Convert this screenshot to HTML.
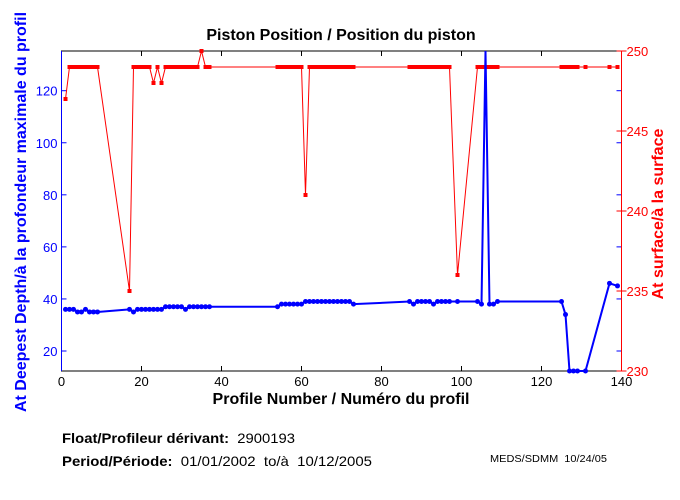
<!DOCTYPE html>
<html><head><meta charset="utf-8"><style>
body{margin:0;background:#fff;width:680px;height:500px;overflow:hidden}
svg{display:block;font-family:"Liberation Sans",Arial,sans-serif}
</style></head><body>
<svg id="s" width="680" height="500" xmlns="http://www.w3.org/2000/svg">
<rect width="680" height="500" fill="#fff"/>
<text x="341" y="40" text-anchor="middle" font-size="16" font-weight="bold">Piston Position / Position du piston</text>
<text x="341" y="404" text-anchor="middle" font-size="16" font-weight="bold">Profile Number / Numéro du profil</text>
<text transform="translate(26,212) rotate(-90)" text-anchor="middle" font-size="16" font-weight="bold" fill="#0000ff">At Deepest Depth/à la profondeur maximale du profil</text>
<text transform="translate(663,214) rotate(-90)" text-anchor="middle" font-size="16" font-weight="bold" fill="#ff0000">At surface/à la surface</text>
<text x="62" y="443" font-size="14" textLength="233" lengthAdjust="spacingAndGlyphs" xml:space="preserve"><tspan font-weight="bold">Float/Profileur dérivant:</tspan>  2900193</text>
<text x="62" y="466" font-size="14" textLength="310" lengthAdjust="spacingAndGlyphs" xml:space="preserve"><tspan font-weight="bold">Period/Période:</tspan>  01/01/2002  to/à  10/12/2005</text>
<text x="490" y="462" font-size="10" textLength="117" lengthAdjust="spacingAndGlyphs" xml:space="preserve">MEDS/SDMM  10/24/05</text>
<g id="g"></g>
</svg>
<script>
var L=61.5,R=621.5,T=51,B=371;
function X(v){return L+v*4}
function YL(v){return 90.7+(120-v)*2.603}
function YR(v){return T+(250-v)*16}
var h='';
h+='<rect x="'+L+'" y="'+T+'" width="'+(R-L)+'" height="'+(B-T)+'" fill="none" stroke="#000" stroke-width="1"/>';
for(var i=0;i<=140;i+=20){var x=X(i);h+='<line x1="'+x+'" y1="'+B+'" x2="'+x+'" y2="'+(B-5)+'" stroke="#000"/><line x1="'+x+'" y1="'+T+'" x2="'+x+'" y2="'+(T+5)+'" stroke="#000"/><text x="'+x+'" y="'+(B+15)+'" text-anchor="middle" font-size="13">'+i+'</text>';}
h+='<line x1="'+L+'" y1="'+T+'" x2="'+L+'" y2="'+B+'" stroke="#00f"/>';
for(var v=20;v<=120;v+=20){var y=YL(v);h+='<line x1="'+L+'" y1="'+y+'" x2="'+(L+5)+'" y2="'+y+'" stroke="#00f"/><line x1="'+R+'" y1="'+y+'" x2="'+(R-5)+'" y2="'+y+'" stroke="#00f"/><text x="'+(L-4)+'" y="'+(y+5)+'" text-anchor="end" font-size="13" fill="#00f">'+v+'</text>';}
h+='<line x1="'+R+'" y1="'+T+'" x2="'+R+'" y2="'+B+'" stroke="#f00"/>';
for(var v=230;v<=250;v+=5){var y=YR(v);h+='<line x1="'+(R-5)+'" y1="'+y+'" x2="'+(R+5)+'" y2="'+y+'" stroke="#f00"/><text x="'+(R+5)+'" y="'+(y+5)+'" font-size="13" fill="#f00">'+v+'</text>';}
var red=[[1,247]];for(var i=2;i<=9;i++)red.push([i,249]);red.push([17,235]);
for(var i=18;i<=22;i++)red.push([i,249]);red.push([23,248],[24,249],[25,248]);
for(var i=26;i<=34;i++)red.push([i,249]);red.push([35,250],[36,249],[37,249]);
for(var i=54;i<=60;i++)red.push([i,249]);red.push([61,241]);
for(var i=62;i<=73;i++)red.push([i,249]);for(var i=87;i<=97;i++)red.push([i,249]);
red.push([99,236]);for(var i=104;i<=109;i++)red.push([i,249]);
for(var i=125;i<=129;i++)red.push([i,249]);red.push([131,249],[137,249],[139,249]);
var p=red.map(function(a){return X(a[0])+','+YR(a[1])}).join(' ');
h+='<polyline points="'+p+'" fill="none" stroke="#f00" stroke-width="1"/>';
red.forEach(function(a){h+='<rect x="'+(X(a[0])-2)+'" y="'+(YR(a[1])-2)+'" width="4" height="4" fill="#f00"/>'});
var blue=[[1,36],[2,36],[3,36],[4,35],[5,35],[6,36],[7,35],[8,35],[9,35],[17,36],[18,35],[19,36],[20,36],[21,36],[22,36],[23,36],[24,36],[25,36],[26,37],[27,37],[28,37],[29,37],[30,37],[31,36],[32,37],[33,37],[34,37],[35,37],[36,37],[37,37],[54,37],[55,38],[56,38],[57,38],[58,38],[59,38],[60,38]];
for(var i=61;i<=72;i++)blue.push([i,39]);blue.push([73,38]);
blue.push([87,39],[88,38],[89,39],[90,39],[91,39],[92,39],[93,38],[94,39],[95,39],[96,39],[97,39],[99,39],[104,39],[105,38],[106,140],[107,38],[108,38],[109,39],[125,39],[126,34],[127,12.3],[128,12.3],[129,12.3],[131,12.3],[137,46],[139,45]);
p=blue.map(function(a){return X(a[0])+','+Math.max(T,YL(a[1]))}).join(' ');
h+='<polyline points="'+p+'" fill="none" stroke="#00f" stroke-width="2"/>';
blue.forEach(function(a){if(a[1]<130)h+='<circle cx="'+X(a[0])+'" cy="'+YL(a[1])+'" r="2.5" fill="#00f"/>'});
document.getElementById('g').innerHTML=h;
</script>
</body></html>
